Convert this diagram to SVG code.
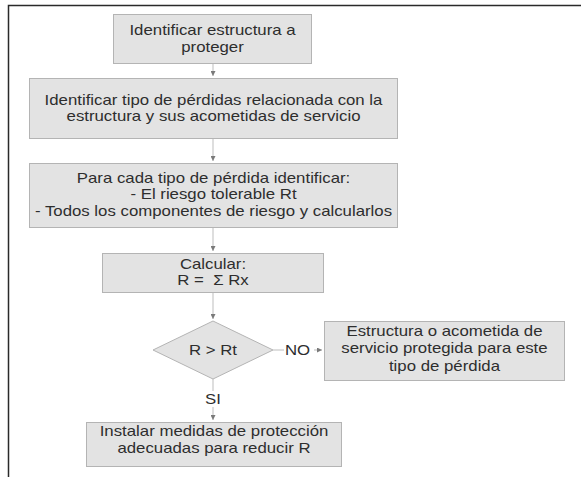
<svg xmlns="http://www.w3.org/2000/svg" width="581" height="477" viewBox="0 0 581 477">
<defs>
<style>
.box{fill:#e3e3e3;stroke:#b4b4b4;stroke-width:1}
.t{font-family:"Liberation Sans",Arial,sans-serif;font-size:14px;fill:#2e2e2e;text-anchor:middle}
.c{stroke:#bdbdbd;stroke-width:1;fill:none}
.frame{stroke:#2a2a2a;stroke-width:1.5;fill:none}
</style>
<marker id="ah" viewBox="0 0 6 6" refX="6" refY="3" markerWidth="5" markerHeight="5" orient="auto" markerUnits="userSpaceOnUse">
<path d="M0,0 L6,3 L0,6 z" fill="#7a7a7a"/>
</marker>
</defs>
<rect width="581" height="477" fill="#ffffff"/>
<path class="frame" d="M8.5,477 V5.5 H581"/>

<g id="connectors">
<line class="c" x1="213" y1="64" x2="213" y2="76" marker-end="url(#ah)"/>
<line class="c" x1="213" y1="139" x2="213" y2="161" marker-end="url(#ah)"/>
<line class="c" x1="213" y1="228" x2="213" y2="251" marker-end="url(#ah)"/>
<line class="c" x1="213" y1="293" x2="213" y2="319" marker-end="url(#ah)"/>
<line class="c" x1="273" y1="350" x2="284" y2="350"/>
<line class="c" x1="314" y1="350" x2="322" y2="350" marker-end="url(#ah)"/>
<text class="t" transform="translate(297.5,0) scale(1.2,1)" y="355">NO</text>
<line class="c" x1="213" y1="379" x2="213" y2="391"/>
<line class="c" x1="213" y1="407" x2="213" y2="420" marker-end="url(#ah)"/>
<text class="t" transform="translate(213,0) scale(1.2,1)" y="404">SI</text>
</g>

<g id="n1">
<rect class="box" x="113.5" y="14.5" width="198" height="49"/>
<text class="t" transform="translate(212.5,0) scale(1.2,1)" y="35">Identificar estructura a</text>
<text class="t" transform="translate(212.5,0) scale(1.2,1)" y="52">proteger</text>
</g>
<g id="n2">
<rect class="box" x="29.5" y="78.5" width="368" height="60"/>
<text class="t" transform="translate(213.5,0) scale(1.2,1)" y="105">Identificar tipo de pérdidas relacionada con la</text>
<text class="t" transform="translate(213.5,0) scale(1.2,1)" y="121">estructura y sus acometidas de servicio</text>
</g>
<g id="n3">
<rect class="box" x="29.5" y="163.5" width="368" height="64"/>
<text class="t" transform="translate(213.5,0) scale(1.2,1)" y="183">Para cada tipo de pérdida identificar:</text>
<text class="t" transform="translate(213.5,0) scale(1.2,1)" y="199.5">- El riesgo tolerable Rt</text>
<text class="t" transform="translate(213.5,0) scale(1.2,1)" y="216">- Todos los componentes de riesgo y calcularlos</text>
</g>
<g id="n4">
<rect class="box" x="102.5" y="253.5" width="221" height="39"/>
<text class="t" transform="translate(213,0) scale(1.2,1)" y="269">Calcular:</text>
<text class="t" transform="translate(213,0) scale(1.2,1)" y="285" xml:space="preserve">R =  Σ Rx</text>
</g>
<g id="n5">
<polygon class="box" points="213,321 273,350 213,379 153,350"/>
<text class="t" transform="translate(213,0) scale(1.2,1)" y="355">R &gt; Rt</text>
</g>
<g id="n6">
<rect class="box" x="324.5" y="321.5" width="240" height="59"/>
<text class="t" transform="translate(444.5,0) scale(1.2,1)" y="336">Estructura o acometida de</text>
<text class="t" transform="translate(444.5,0) scale(1.2,1)" y="353.5">servicio protegida para este</text>
<text class="t" transform="translate(444.5,0) scale(1.2,1)" y="371">tipo de pérdida</text>
</g>
<g id="n7">
<rect class="box" x="86.5" y="422.5" width="255" height="44"/>
<text class="t" transform="translate(214,0) scale(1.2,1)" y="436">Instalar medidas de protección</text>
<text class="t" transform="translate(214,0) scale(1.2,1)" y="453">adecuadas para reducir R</text>
</g>
</svg>
